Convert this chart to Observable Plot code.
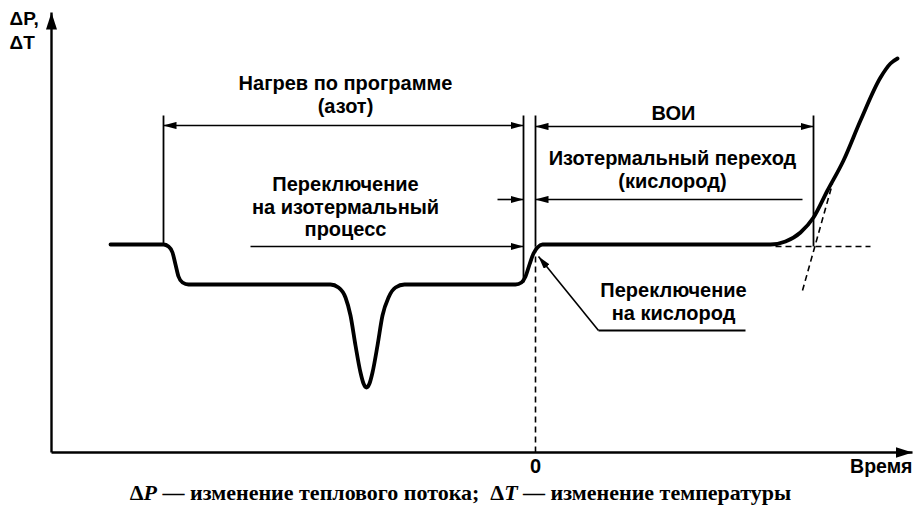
<!DOCTYPE html>
<html>
<head>
<meta charset="utf-8">
<script src="https://cdn.jsdelivr.net/npm/d3@7"></script>
<script src="https://cdn.jsdelivr.net/npm/@observablehq/plot@0.6"></script>
<style>
  html, body { margin: 0; padding: 0; background: #fff; }
  figure { margin: 0 !important; }
  svg { display: block; }
  figcaption {
    font-family: "Liberation Serif", "Times New Roman", serif;
    font-size: 22px;
    font-weight: bold;
    color: #000;
    text-align: center;
    line-height: 26px;
    margin: 0;
    padding: 0 0 0 4px;
  }
</style>
</head>
<body>
<div id="chart"></div>
<script>
// ---- Data (time t, signal v; arbitrary schematic units) ----
const curveTime   = [-42.5,-37.2,-36.7,-36.3,-36.0,-35.7,-35.3,-34.7,
                     -20.5,-19.7,-19.0,-18.5,-18.0,-17.5,-17.2,-16.9,-16.6,-16.3,-15.8,-15.3,-14.7,-14.0,-13.1,
                     -2.0,-1.4,-1.0,-0.6,-0.2,0.2,0.7,
                     23.5,25.0,26.5,27.8,29.2,30.8,32.5,34.5,35.5,36.2];
const curveSignal = [20.8,20.8,20.6,20.0,18.8,17.6,17.0,16.8,
                     16.8,16.5,15.5,13.7,10.7,8.0,6.9,6.5,6.9,8.0,10.7,13.7,15.5,16.5,16.8,
                     16.8,17.0,17.6,18.8,19.9,20.5,20.8,
                     20.8,21.1,22.0,23.5,26.2,29.2,33.2,37.5,38.9,39.4];

// vertical guide lines: time, lower end; all reach the same top
const guideTime = [-37.2, -1.2, 0, 27.8];
const guideLow  = [20.8, 17.0, 20.6, 20.6];
const guideHigh = 33.7;

// double-headed dimension arrows
const spanStart = [-37.2, 0];
const spanEnd   = [-1.2, 27.8];
const spanLevel = [32.7, 32.6];

// single-headed arrows (head at the second point)
const arrowT1 = [-3.8, 26.7, -28.5, 6.3];
const arrowV1 = [25.3, 25.3, 20.6, 12.2];
const arrowT2 = [-1.2, 0, -1.2, 0.3];
const arrowV2 = [25.3, 25.3, 20.6, 19.6];

// plain leader line
const leaderT = [6.3, 21.0];
const leaderV = [12.2, 12.2];

// dashed construction lines
const dashT1 = [0, 24.0, 26.7];
const dashV1 = [0, 20.6, 16.2];
const dashT2 = [0, 33.5, 29.7];
const dashV2 = [20.6, 20.6, 26.9];

// axes
const axisStart = [-48.4, 0];
const axisEndT  = [-48.4, 37.7];
const axisEndV  = [44, 0];

// labels
const labelText = ["Нагрев по программе\n(азот)", "ВОИ", "Изотермальный переход\n(кислород)",
                   "Переключение\nна изотермальный\nпроцесс", "Переключение\nна кислород", "0"];
const labelT = [-19.0, 13.8, 13.7, -19.0, 13.8, 0];
const labelV = [35.8, 34.0, 28.35, 24.6, 15.15, -1.3];

const yAxisLabel = ["ΔP,", "ΔT"];
const yAxisLabelV = [43.4, 41.0];
const yAxisLabelT = -52.6;
const xAxisLabel = "Время";
const xAxisLabelT = 37.7, xAxisLabelV = -1.4;

const captionParts = ["Δ", "P", " — изменение теплового потока;\u00a0 Δ", "T", " — изменение температуры"];

// ---- Build ----
const curve = curveTime.map((t, i) => ({t, v: curveSignal[i]}));
const guides = guideTime.map((t, i) => ({t1: t, v1: guideLow[i], t2: t, v2: guideHigh}));
const spans = spanStart.map((t, i) => ({t1: t, v1: spanLevel[i], t2: spanEnd[i], v2: spanLevel[i]}));
const arrows = arrowT1.map((t, i) => ({t1: t, v1: arrowV1[i], t2: arrowT2[i], v2: arrowV2[i]}));
const leader = [{t1: leaderT[0], v1: leaderV[0], t2: leaderT[1], v2: leaderV[1]}];
const dashes = dashT1.map((t, i) => ({t1: t, v1: dashV1[i], t2: dashT2[i], v2: dashV2[i]}));
const axes = axisStart.map((s, i) => ({t1: -48.4, v1: 0, t2: axisEndT[i], v2: axisEndV[i]}));
const labels = labelText.map((text, i) => ({text, t: labelT[i], v: labelV[i]}));
const yLabels = yAxisLabel.map((text, i) => ({text, t: yAxisLabelT, v: yAxisLabelV[i]}));

function head(len, half) {
  return (color, context) => {
    const m = d3.create("svg:marker")
      .attr("viewBox", `${-len} ${-half} ${len} ${2 * half}`)
      .attr("markerWidth", len)
      .attr("markerHeight", 2 * half)
      .attr("markerUnits", "userSpaceOnUse")
      .attr("refX", 0).attr("refY", 0)
      .attr("orient", "auto-start-reverse");
    m.append("path")
      .attr("d", `M${-len},${-half}L0,0L${-len},${half}Z`)
      .attr("fill", "#000").attr("stroke", "none");
    return m.node();
  };
}
const smallHead = head(13, 3.6);
const bigHead = head(17, 5.5);

const font = {fontFamily: "'Liberation Sans', Arial, sans-serif", fontWeight: "bold", fill: "#000"};

const cap = document.createElement("div");
captionParts.forEach((p, i) => {
  if (i % 2 === 1) { const el = document.createElement("i"); el.textContent = p; cap.appendChild(el); }
  else cap.appendChild(document.createTextNode(p));
});

const link = (data, opts) => Plot.link(data, {x1: "t1", y1: "v1", x2: "t2", y2: "v2", stroke: "#000", ...opts});

const chart = Plot.plot({
  width: 917,
  height: 480,
  marginLeft: 51,
  marginRight: 5,
  marginTop: 12,
  marginBottom: 28,
  x: {domain: [-48.4, 37.7], axis: null},
  y: {domain: [0, 44], axis: null},
  style: {background: "#fff"},
  caption: cap,
  marks: [
    link(dashes, {strokeWidth: 1.6, strokeDasharray: "6,4"}),
    link(guides, {strokeWidth: 1.8}),
    link(leader, {strokeWidth: 1.8}),
    link(spans, {strokeWidth: 1.6, markerStart: smallHead, markerEnd: smallHead}),
    link(arrows, {strokeWidth: 1.6, markerEnd: smallHead}),
    link(axes, {strokeWidth: 2.4, markerEnd: bigHead}),
    Plot.line(curve, {x: "t", y: "v", curve: "monotone-x", stroke: "#000", strokeWidth: 3.8, strokeLinejoin: "round", strokeLinecap: "round"}),
    Plot.text(labels, {x: "t", y: "v", text: "text", fontSize: 20, lineHeight: 1.13, ...font}),
    Plot.text(yLabels, {x: "t", y: "v", text: "text", textAnchor: "start", fontSize: 19, ...font}),
    Plot.text([xAxisLabel], {x: () => xAxisLabelT, y: () => xAxisLabelV, text: d => d, textAnchor: "end", fontSize: 19.5, ...font})
  ]
});

document.getElementById("chart").appendChild(chart);
</script>
</body>
</html>
